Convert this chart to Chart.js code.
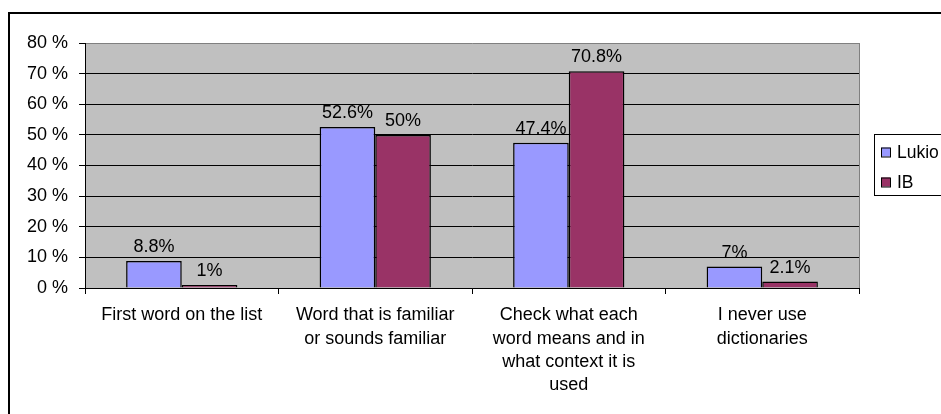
<!DOCTYPE html>
<html lang="en">
  <head>
    <meta charset="UTF-8" />
    <title>Dictionary use</title>
    <script src="https://cdn.jsdelivr.net/npm/chart.js"></script>
    <style>
      body {
        margin: 0;
        background: #fff;
        overflow: hidden;
      }
    </style>
  </head>
  <body>
    <canvas id="chart" width="941" height="414"></canvas>

    <script>
      // Answer categories (multi-line labels as drawn under the axis)
      const categories = [
        ["First word on the list"],
        ["Word that is familiar", "or sounds familiar"],
        ["Check what each", "word means and in", "what context it is", "used"],
        ["I never use", "dictionaries"],
      ];
      const seriesNames = ["Lukio", "IB"];
      const lukioValues = [8.8, 52.6, 47.4, 7];
      const ibValues = [1, 50, 70.8, 2.1];
      const yMax = 80;
      const yStep = 10;

      const FONT = '"Liberation Sans", Arial, sans-serif';
      Chart.defaults.font.family = FONT;
      Chart.defaults.color = "#000";

      // Gray plot background, outer frame, right border of the plot
      const frame = {
        id: "frame",
        beforeDraw(chart) {
          const { ctx, chartArea: a } = chart;
          ctx.save();
          ctx.fillStyle = "#fff";
          ctx.fillRect(0, 0, chart.width, chart.height);
          ctx.strokeStyle = "#000";
          ctx.lineWidth = 2;
          ctx.strokeRect(9, 13, chart.width + 20, chart.height + 20);
          ctx.fillStyle = "#c0c0c0";
          ctx.fillRect(a.left, a.top, a.right - a.left, a.bottom - a.top);
          ctx.restore();
        },
        afterDraw(chart) {
          const { ctx, chartArea: a } = chart;
          ctx.save();
          ctx.strokeStyle = "#808080";
          ctx.lineWidth = 1;
          ctx.beginPath();
          ctx.moveTo(Math.round(a.right) + 0.5, a.top);
          ctx.lineTo(Math.round(a.right) + 0.5, a.bottom);
          ctx.stroke();

          // legend box
          ctx.strokeStyle = "#000";
          ctx.strokeRect(874.5, 134.5, 100, 61);
          ctx.font = "17.5px " + FONT;
          ctx.textBaseline = "middle";
          ctx.textAlign = "left";
          chart.data.datasets.forEach((ds, i) => {
            const cy = 152 + i * 30;
            ctx.fillStyle = ds.backgroundColor;
            ctx.fillRect(881, cy - 4.5, 9, 9);
            ctx.strokeRect(881.5, cy - 4, 9, 9);
            ctx.fillStyle = "#000";
            ctx.fillText(ds.label, 897, cy + 1);
          });
          ctx.restore();
        },
      };

      // Value labels above each bar
      const valueLabels = {
        id: "valueLabels",
        afterDatasetsDraw(chart) {
          const { ctx } = chart;
          ctx.save();
          ctx.font = "18px " + FONT;
          ctx.fillStyle = "#000";
          ctx.textAlign = "center";
          ctx.textBaseline = "alphabetic";
          chart.data.datasets.forEach((ds, i) => {
            chart.getDatasetMeta(i).data.forEach((bar, j) => {
              ctx.fillText(ds.data[j] + "%", bar.x, bar.y - 9);
            });
          });
          ctx.restore();
        },
      };

      new Chart(document.getElementById("chart"), {
        type: "bar",
        data: {
          labels: categories,
          datasets: [
            {
              label: seriesNames[0],
              data: lukioValues,
              backgroundColor: "#9999ff",
              borderColor: "#000",
              borderWidth: 1.5,
            },
            {
              label: seriesNames[1],
              data: ibValues,
              backgroundColor: "#993366",
              borderColor: "#000",
              borderWidth: 1.5,
            },
          ],
        },
        options: {
          responsive: false,
          animation: false,
          devicePixelRatio: 1,
          categoryPercentage: 0.575,
          barPercentage: 1,
          layout: { padding: { left: 0, top: 43, right: 82, bottom: 0 } },
          plugins: {
            legend: { display: false },
            tooltip: { enabled: false },
          },
          scales: {
            x: {
              afterFit(scale) {
                scale.height = 126;
              },
              grid: {
                offset: true,
                drawOnChartArea: false,
                color: "#000",
                tickLength: 6,
              },
              border: { color: "#000", width: 1 },
              ticks: {
                font: { size: 18, lineHeight: 1.28 },
                color: "#000",
                padding: 10,
                maxRotation: 0,
                minRotation: 0,
                autoSkip: false,
              },
            },
            y: {
              min: 0,
              max: yMax,
              afterFit(scale) {
                scale.width = 85;
              },
              grid: {
                color: (c) => (c.tick && c.tick.value === yMax ? "#808080" : "#000"),
                tickColor: "#000",
                tickLength: 6,
              },
              border: { color: "#000", width: 1 },
              ticks: {
                stepSize: yStep,
                font: { size: 18 },
                color: "#000",
                padding: 11,
                callback: (v) => v + " %",
              },
            },
          },
        },
        plugins: [frame, valueLabels],
      });
    </script>
  </body>
</html>
